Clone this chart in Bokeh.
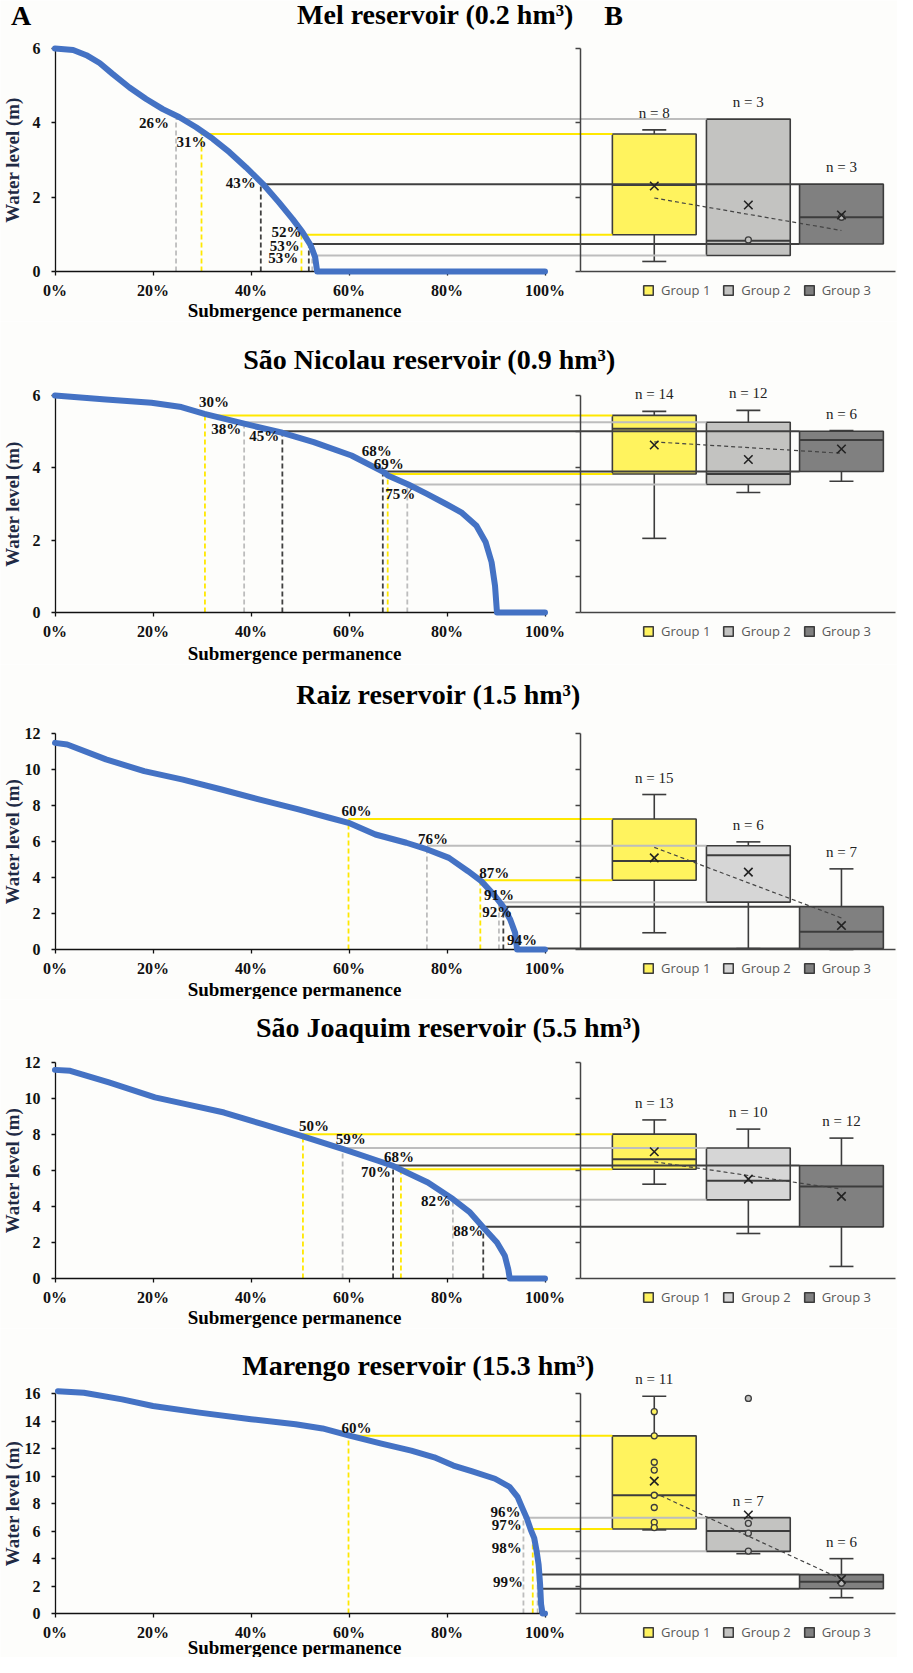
import math
from bokeh.plotting import figure
from bokeh.models import (Range1d, LinearAxis, FixedTicker, CustomJSTickFormatter,
                          ColumnDataSource, Label, LabelSet, Legend, LegendItem)
from bokeh.layouts import column
from bokeh.embed import file_html
from bokeh.resources import INLINE

# ------------------------------------------------------------------ data
TITLES = ["Mel reservoir (0.2 hm³)", "São Nicolau reservoir (0.9 hm³)",
          "Raiz reservoir (1.5 hm³)", "São Joaquim reservoir (5.5 hm³)",
          "Marengo reservoir (15.3 hm³)"]
GROUPS = ["Group 1", "Group 2", "Group 3"]
X_TICKS = [0, 20, 40, 60, 80, 100]
X_TICK_LABELS = ["0%", "20%", "40%", "60%", "80%", "100%"]
Y_MAX = [6, 6, 12, 12, 16]
Y_TICKS = [[0, 2, 4, 6], [0, 2, 4, 6], [0, 2, 4, 6, 8, 10, 12],
           [0, 2, 4, 6, 8, 10, 12], [0, 2, 4, 6, 8, 10, 12, 14, 16]]
RIGHT_TICKS = [[0, 2, 4, 6], [0, 1, 2, 3, 4, 5, 6], [0, 2, 4, 6, 8, 10, 12],
               [0, 2, 4, 6, 8, 10, 12], [0, 2, 4, 6, 8, 10, 12, 14, 16]]

# Mel
MEL_PCT = [0, 3.7, 6.4, 9.1, 11.8, 15.2, 18.6, 22.0, 25.4, 28.8, 32.2, 35.6, 39.0, 42.4, 45.7, 48.5, 50.5, 52.2, 53.1, 53.5, 100]
MEL_LVL = [6.0, 5.96, 5.82, 5.61, 5.31, 4.95, 4.64, 4.37, 4.15, 3.88, 3.57, 3.21, 2.80, 2.36, 1.86, 1.41, 1.06, 0.70, 0.38, 0.0, 0.0]
MEL_LOW = [0.27, 0.43, 0.74]
MEL_Q1 = [0.99, 0.43, 0.74]
MEL_MED = [2.33, 0.83, 1.46]
MEL_Q3 = [3.70, 4.10, 2.35]
MEL_HIGH = [3.81, 4.10, 2.35]
MEL_MEAN = [2.30, 1.79, 1.52]
MEL_N = [8, 3, 3]
MEL_PTS = [[], [0.85], [1.46]]
MEL_OUT = [[], [], []]
MEL_Q3_PCT = [29.9, 24.7, 42.0]
MEL_Q1_PCT = [50.3, 52.5, 51.8]
MEL_Q3_LBL = ["31%", "26%", "43%"]
MEL_Q1_LBL = ["52%", "53%", "53%"]

# Sao Nicolau
SN_PCT = [0, 10.4, 19.7, 25.8, 30.5, 38.6, 46.4, 52.8, 60.5, 67.1, 67.9, 72.1, 75.9, 79.8, 82.9, 86.0, 87.9, 89.1, 89.8, 90.2, 100]
SN_LVL = [6.0, 5.89, 5.80, 5.68, 5.49, 5.22, 4.97, 4.71, 4.34, 3.88, 3.79, 3.54, 3.28, 3.00, 2.77, 2.40, 1.94, 1.39, 0.74, 0.0, 0.0]
SN_LOW = [2.05, 3.32, 3.63]
SN_Q1 = [3.83, 3.54, 3.90]
SN_MED = [5.08, 3.83, 4.77]
SN_Q3 = [5.45, 5.26, 5.01]
SN_HIGH = [5.56, 5.59, 5.03]
SN_MEAN = [4.63, 4.23, 4.52]
SN_N = [14, 12, 6]
SN_PTS = [[], [], []]
SN_OUT = [[], [], []]
SN_Q3_PCT = [30.6, 38.6, 46.4]
SN_Q1_PCT = [67.9, 71.9, 66.9]
SN_Q3_LBL = ["30%", "38%", "45%"]
SN_Q1_LBL = ["69%", "75%", "68%"]

# Raiz
RZ_PCT = [0, 2.5, 10.4, 18.2, 26.1, 34.0, 41.8, 49.7, 56.0, 59.9, 65.4, 71.7, 76.0, 80.4, 84.3, 87.0, 89.8, 91.4, 92.9, 93.9, 94.3, 100]
RZ_LVL = [11.48, 11.39, 10.56, 9.91, 9.44, 8.89, 8.33, 7.78, 7.32, 7.04, 6.39, 5.93, 5.56, 5.09, 4.35, 3.80, 2.97, 2.41, 1.67, 0.93, 0.0, 0.0]
RZ_LOW = [0.93, 0.05, 0.0]
RZ_Q1 = [3.85, 2.63, 0.05]
RZ_MED = [4.91, 5.24, 0.98]
RZ_Q3 = [7.25, 5.76, 2.38]
RZ_HIGH = [8.61, 5.98, 4.48]
RZ_MEAN = [5.09, 4.30, 1.33]
RZ_N = [15, 6, 7]
RZ_PTS = [[], [], []]
RZ_OUT = [[], [], []]
RZ_Q3_PCT = [59.9, 75.9, 91.5]
RZ_Q1_PCT = [86.8, 90.6, 94.1]
RZ_Q3_LBL = ["60%", "76%", "92%"]
RZ_Q1_LBL = ["87%", "91%", "94%"]

# Sao Joaquim
SJ_PCT = [0, 3.1, 11.0, 20.4, 26.7, 34.5, 42.4, 50.6, 58.8, 65.9, 69.0, 70.6, 76.1, 81.2, 84.7, 87.4, 90.2, 91.8, 92.5, 92.8, 100]
SJ_LVL = [11.59, 11.54, 10.89, 10.06, 9.69, 9.22, 8.57, 7.89, 7.19, 6.54, 6.26, 6.04, 5.33, 4.41, 3.67, 2.83, 2.00, 1.26, 0.52, 0.0, 0.0]
SJ_LOW = [5.24, 2.50, 0.67]
SJ_Q1 = [6.07, 4.37, 2.87]
SJ_MED = [6.63, 5.43, 5.11]
SJ_Q3 = [8.02, 7.25, 6.28]
SJ_HIGH = [8.81, 8.30, 7.80]
SJ_MEAN = [7.04, 5.52, 4.56]
SJ_N = [13, 10, 12]
SJ_PTS = [[], [], []]
SJ_OUT = [[], [], []]
SJ_Q3_PCT = [50.6, 58.7, 69.0]
SJ_Q1_PCT = [70.6, 81.2, 87.4]
SJ_Q3_LBL = ["50%", "59%", "68%"]
SJ_Q1_LBL = ["70%", "82%", "88%"]

# Marengo
MR_PCT = [0.6, 5.9, 13.7, 20.0, 29.5, 40.0, 49.1, 54.6, 60.1, 66.4, 72.7, 77.4, 81.3, 85.0, 89.8, 92.8, 94.4, 95.4, 96.3, 97.1, 97.8, 98.3, 98.7, 99.0, 99.2, 99.5, 100]
MR_LVL = [16.17, 16.05, 15.57, 15.09, 14.61, 14.13, 13.77, 13.46, 12.93, 12.37, 11.84, 11.36, 10.76, 10.35, 9.80, 9.20, 8.48, 7.64, 6.92, 6.08, 5.48, 4.52, 3.55, 2.11, 0.67, 0.0, 0.0]
MR_LOW = [6.08, 4.35, 1.15]
MR_Q1 = [6.15, 4.52, 1.80]
MR_MED = [8.60, 6.00, 2.31]
MR_Q3 = [12.92, 6.97, 2.83]
MR_HIGH = [15.80, 6.97, 3.99]
MR_MEAN = [9.63, 7.16, 2.48]
MR_N = [11, 7, 6]
MR_PTS = [[14.68, 12.92, 11.0, 10.43, 8.6, 7.71, 6.63, 6.25], [6.56, 5.84, 4.54], [2.2]]
MR_OUT = [[], [15.64], []]
MR_Q3_PCT = [59.9, 95.6, 99.0]
MR_Q1_PCT = [97.5, 98.5, 99.1]
MR_Q3_LBL = ["60%", "96%", "99%"]
MR_Q1_LBL = ["97%", "98%", ""]

# ------------------------------------------------------------------ styling / layout
SERIF = "Liberation Serif"
BLUE = "#4472C4"
LINE_COLORS = ["#FFE800", "#BDBDBD", "#404040"]
BOX_FILLS = [["#FFF35E", "#C3C3C1", "#808080"],
             ["#FFF35E", "#C3C3C1", "#808080"],
             ["#FFF35E", "#D6D6D6", "#808080"],
             ["#FFF35E", "#D6D6D6", "#808080"],
             ["#FFF35E", "#C3C3C1", "#808080"]]
EDGE = "#3C3C3C"
BG = "#FDFDFB"

# label offsets in px (dx right, dy down) relative to the curve corner
Q3_OFF = [[(-10, 8), (-22, 4), (-20, -1)],
          [(9, -13), (-18, 7), (-18, 5)],
          [(8, -8), (6, -7), (-6, 5)],
          [(11, -8), (8, -9), (6, -8)],
          [(8, -8), (-18, -6), (-32, 7)]]
Q1_OFF = [[(-15, -3), (-29, 2), (-24, 2)],
          [(1, -10), (-7, 10), (-6, -20)],
          [(14, -7), (0, -7), (6, -9)],
          [(-25, 3), (-17, 1), (-15, 4)],
          [(-26, -4), (-31, -3), (0, 0)]]

PAGE_L = 8
FIG_W = 897
PX0 = 62.5          # page x of 0 %
PPX = 4.9           # px per %
X_START = (PAGE_L - PX0) / PPX
X_STOP = (PAGE_L + FIG_W - PX0) / PPX
RIGHT_AX = 107.2
BOX_X = [122.3, 141.5, 160.5]
BOX_W = 17.1
CAP_W = 4.9
RIGHT_END = 171.5

ROW_TOP = [8, 329, 672, 1007, 1336]
ROW_H = [321, 343, 335, 329, 329]
YMAX_PX = [56, 403, 741, 1070, 1401]
Y0_PX = [279, 620, 957, 1286, 1621]
TITLE_CX = [443, 437, 446, 456, 426]
TITLE_CY = [21.5, 367, 702, 1035, 1373]
XLAB_DY = [39, 41, 40, 39, 34]

ROWS = [
    dict(pct=MEL_PCT, lvl=MEL_LVL, low=MEL_LOW, q1=MEL_Q1, med=MEL_MED, q3=MEL_Q3, high=MEL_HIGH,
         mean=MEL_MEAN, n=MEL_N, pts=MEL_PTS, out=MEL_OUT, q3p=MEL_Q3_PCT, q1p=MEL_Q1_PCT,
         q3l=MEL_Q3_LBL, q1l=MEL_Q1_LBL),
    dict(pct=SN_PCT, lvl=SN_LVL, low=SN_LOW, q1=SN_Q1, med=SN_MED, q3=SN_Q3, high=SN_HIGH,
         mean=SN_MEAN, n=SN_N, pts=SN_PTS, out=SN_OUT, q3p=SN_Q3_PCT, q1p=SN_Q1_PCT,
         q3l=SN_Q3_LBL, q1l=SN_Q1_LBL),
    dict(pct=RZ_PCT, lvl=RZ_LVL, low=RZ_LOW, q1=RZ_Q1, med=RZ_MED, q3=RZ_Q3, high=RZ_HIGH,
         mean=RZ_MEAN, n=RZ_N, pts=RZ_PTS, out=RZ_OUT, q3p=RZ_Q3_PCT, q1p=RZ_Q1_PCT,
         q3l=RZ_Q3_LBL, q1l=RZ_Q1_LBL),
    dict(pct=SJ_PCT, lvl=SJ_LVL, low=SJ_LOW, q1=SJ_Q1, med=SJ_MED, q3=SJ_Q3, high=SJ_HIGH,
         mean=SJ_MEAN, n=SJ_N, pts=SJ_PTS, out=SJ_OUT, q3p=SJ_Q3_PCT, q1p=SJ_Q1_PCT,
         q3l=SJ_Q3_LBL, q1l=SJ_Q1_LBL),
    dict(pct=MR_PCT, lvl=MR_LVL, low=MR_LOW, q1=MR_Q1, med=MR_MED, q3=MR_Q3, high=MR_HIGH,
         mean=MR_MEAN, n=MR_N, pts=MR_PTS, out=MR_OUT, q3p=MR_Q3_PCT, q1p=MR_Q1_PCT,
         q3l=MR_Q3_LBL, q1l=MR_Q1_LBL),
]

EMPTY = "return ''"


def inner_axis(loc, bounds, ticks, tick_len, color, width):
    ax = LinearAxis(fixed_location=loc, bounds=bounds, ticker=FixedTicker(ticks=ticks),
                    formatter=CustomJSTickFormatter(code=EMPTY))
    ax.major_tick_in = tick_len
    ax.major_tick_out = 0
    ax.minor_tick_in = 0
    ax.minor_tick_out = 0
    ax.major_label_standoff = 0
    ax.major_label_text_font_size = "0px"
    ax.axis_line_color = color
    ax.axis_line_width = width
    ax.major_tick_line_color = color
    ax.major_tick_line_width = 1.3
    return ax


def make_row(r, d):
    ymax = Y_MAX[r]
    y0p, ymp = Y0_PX[r], YMAX_PX[r]
    ppy = (y0p - ymp) / ymax
    top, H = ROW_TOP[r], ROW_H[r]
    bot = top + H
    ys = -(bot - y0p) / ppy
    ye = (y0p - top) / ppy

    def X(px):
        return (px - PX0) / PPX

    def Y(py):
        return (y0p - py) / ppy

    p = figure(width=FIG_W, height=H, min_border=0,
               x_range=Range1d(X_START, X_STOP), y_range=Range1d(ys, ye),
               x_axis_type=None, y_axis_type=None, output_backend="svg",
               toolbar_location=None, title=None)
    p.background_fill_color = BG
    p.border_fill_color = BG
    p.outline_line_color = None

    # ---- axes (drawn inside the frame at fixed positions, ticks pointing "in")
    p.add_layout(inner_axis(0, (0, 100), X_TICKS, 4, "#111111", 1.3), "above")
    p.add_layout(inner_axis(0, (RIGHT_AX, RIGHT_END), [], 0, "#444444", 1.5), "above")
    p.add_layout(inner_axis(0, (0, ymax), Y_TICKS[r], 4, "#111111", 1.3), "right")
    p.add_layout(inner_axis(RIGHT_AX, (0, ymax), RIGHT_TICKS[r], 5, "#444444", 1.5), "right")

    # tick labels
    p.add_layout(LabelSet(source=ColumnDataSource(dict(x=X_TICKS, y=[Y(y0p + 19)] * len(X_TICKS),
                                                       t=X_TICK_LABELS)),
                          x="x", y="y", text="t", text_align="center", text_baseline="middle",
                          text_font=SERIF, text_font_style="bold", text_font_size="16px",
                          text_color="#111111"))
    p.add_layout(LabelSet(source=ColumnDataSource(dict(x=[X(48)] * len(Y_TICKS[r]), y=Y_TICKS[r],
                                                       t=[str(v) for v in Y_TICKS[r]])),
                          x="x", y="y", text="t", text_align="right", text_baseline="middle",
                          text_font=SERIF, text_font_style="bold", text_font_size="16px",
                          text_color="#111111"))

    fills = BOX_FILLS[r]
    half = BOX_W / 2

    # ---- boxes
    box_renderers = []
    for g in range(3):
        src = ColumnDataSource(dict(x=[BOX_X[g]], top=[d["q3"][g]], bottom=[d["q1"][g]]))
        rb = p.vbar(x="x", width=BOX_W, top="top", bottom="bottom", source=src,
                    fill_color=fills[g], line_color=EDGE, line_width=1.6)
        box_renderers.append(rb)
    p.segment(x0=[BOX_X[g] - half for g in range(3)], x1=[BOX_X[g] + half for g in range(3)],
              y0=d["med"], y1=d["med"], line_color=EDGE, line_width=2)
    wx0, wy0, wx1, wy1 = [], [], [], []
    for g in range(3):
        bx = BOX_X[g]
        if d["high"][g] > d["q3"][g]:
            wx0 += [bx, bx - CAP_W / 2]
            wx1 += [bx, bx + CAP_W / 2]
            wy0 += [d["q3"][g], d["high"][g]]
            wy1 += [d["high"][g], d["high"][g]]
        if d["low"][g] < d["q1"][g]:
            wx0 += [bx, bx - CAP_W / 2]
            wx1 += [bx, bx + CAP_W / 2]
            wy0 += [d["q1"][g], d["low"][g]]
            wy1 += [d["low"][g], d["low"][g]]
    if wx0:
        p.segment(x0=wx0, y0=wy0, x1=wx1, y1=wy1, line_color=EDGE, line_width=1.6)

    # ---- threshold lines
    hx0, hx1, hy, hc = [], [], [], []
    for g in range(3):
        for key_p, key_v in (("q3p", "q3"), ("q1p", "q1")):
            hx0.append(d[key_p][g])
            hx1.append(BOX_X[g] - half)
            hy.append(d[key_v][g])
            hc.append(LINE_COLORS[g])
    p.segment(x0=hx0, x1=hx1, y0=hy, y1=hy, line_color=hc, line_width=2)
    p.segment(x0=hx0, x1=hx0, y0=[0] * len(hy), y1=hy, line_color=hc, line_width=1.8,
              line_dash="5 3")

    # ---- trend line through the medians
    xm = sum(BOX_X) / 3
    ym = sum(d["med"]) / 3
    b = sum((BOX_X[i] - xm) * (d["med"][i] - ym) for i in range(3)) / sum((BOX_X[i] - xm) ** 2 for i in range(3))
    p.line([BOX_X[0], BOX_X[2]], [ym + b * (BOX_X[0] - xm), ym + b * (BOX_X[2] - xm)],
           line_color="#444444", line_width=1.2, line_dash="4 3")

    # ---- points, outliers, means
    for g in range(3):
        pts = d["pts"][g] + d["out"][g]
        if pts:
            p.scatter([BOX_X[g]] * len(pts), pts, size=6, marker="circle",
                      fill_color=fills[g] if g < 2 else "#BBBBBB", line_color=EDGE, line_width=1.3)
    p.scatter(BOX_X, d["mean"], marker="x", size=12, line_color="#222222", line_width=1.6)

    # ---- blue permanence curve
    p.line(d["pct"], d["lvl"], line_color=BLUE, line_width=6, line_cap="round",
           line_join="round", level="overlay")

    # ---- percentage labels
    for g in range(3):
        for key_p, key_v, key_l, offs in (("q3p", "q3", "q3l", Q3_OFF), ("q1p", "q1", "q1l", Q1_OFF)):
            txt = d[key_l][g]
            if not txt:
                continue
            dx, dy = offs[r][g]
            p.add_layout(Label(x=d[key_p][g] + dx / PPX, y=d[key_v][g] - dy / ppy, text=txt,
                               text_align="center", text_baseline="middle", text_font=SERIF,
                               text_font_style="bold", text_font_size="15px", text_color="#111111",
                               level="overlay"))

    # ---- n labels
    for g in range(3):
        topv = max(d["high"][g], d["q3"][g])
        p.add_layout(Label(x=BOX_X[g], y=topv + 17 / ppy, text="n = %d" % d["n"][g],
                           text_align="center", text_baseline="middle", text_font=SERIF,
                           text_font_size="15px", text_color="#222222"))

    # ---- titles and axis titles
    p.add_layout(Label(x=X(TITLE_CX[r]), y=Y(TITLE_CY[r]), text=TITLES[r], text_align="center",
                       text_baseline="middle", text_font=SERIF, text_font_style="bold",
                       text_font_size="28px", text_color="#000000"))
    p.add_layout(Label(x=X(20), y=ymax / 2, text="Water level (m)", angle=math.pi / 2,
                       text_align="center", text_baseline="middle", text_font=SERIF,
                       text_font_style="bold", text_font_size="19px", text_color="#1F2A44"))
    p.add_layout(Label(x=X(302), y=Y(y0p + XLAB_DY[r]), text="Submergence permanence",
                       text_align="center", text_baseline="middle", text_font=SERIF,
                       text_font_style="bold", text_font_size="19px", text_color="#000000"))
    if r == 0:
        for txt, cx in (("A", 28.5), ("B", 621)):
            p.add_layout(Label(x=X(cx), y=Y(23), text=txt, text_align="center",
                               text_baseline="middle", text_font=SERIF, text_font_style="bold",
                               text_font_size="28px", text_color="#000000"))

    # ---- legend (inside the frame, below the box panel)
    legend = Legend(items=[LegendItem(label=GROUPS[g], renderers=[box_renderers[g]]) for g in range(3)],
                    location=(650 - PAGE_L, bot - y0p - 28), orientation="horizontal",
                    glyph_width=12, glyph_height=12, label_height=16, label_standoff=7, spacing=12,
                    padding=0, margin=0, border_line_color=None, background_fill_alpha=0,
                    label_text_font="Open Sans", label_text_font_size="13px",
                    label_text_color="#595959", label_text_baseline="middle")
    p.add_layout(legend, "center")
    return p


figs = [make_row(r, ROWS[r]) for r in range(5)]
layout = column(*figs, spacing=0)
open("out.html", "w").write(file_html(layout, INLINE, "Reservoir submergence permanence"))
